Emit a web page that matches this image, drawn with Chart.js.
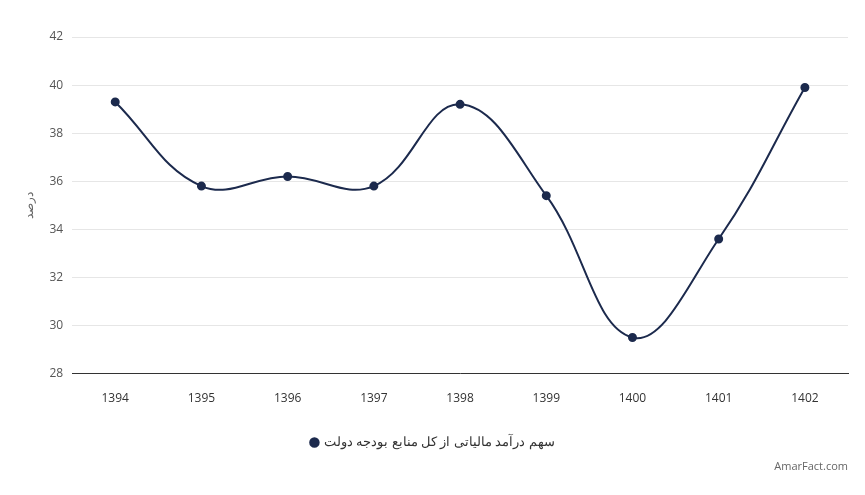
<!DOCTYPE html>
<html><head><meta charset="utf-8">
<script src="https://cdn.jsdelivr.net/npm/chart.js@4"></script>
<style>html,body{margin:0;padding:0;background:#fff}#w{position:relative;width:865px;height:495px}
#c{position:absolute;left:0;top:0}
#credit{position:absolute;right:17px;bottom:22px;font:11px "Open Sans";color:#666}</style>
</head><body><div id="w"><canvas id="c" width="865" height="495"></canvas><div id="credit">AmarFact.com</div></div>
<script>
const categories=['1394','1395','1396','1397','1398','1399','1400','1401','1402'];
const values=[39.3,35.8,36.2,35.8,39.2,35.4,29.5,33.6,39.9];
const seriesName='سهم درآمد مالیاتی از کل منابع بودجه دولت';
const yTitle='درصد';
Chart.defaults.font.family='"Open Sans"';
new Chart(document.getElementById('c'),{type:'line',
data:{labels:categories,datasets:[{label:seriesName,data:values,borderColor:'#1c2a4d',backgroundColor:'#1c2a4d',borderWidth:2,pointRadius:3.5,pointHoverRadius:3.5,tension:0.4,fill:false}]},
options:{responsive:false,animation:false,
layout:{padding:{left:18,right:17,top:37,bottom:36}},
plugins:{legend:{position:'bottom',labels:{usePointStyle:true,pointStyle:'circle',boxWidth:6,boxHeight:6,color:'#333',font:{size:13},padding:20}},tooltip:{enabled:false}},
scales:{x:{offset:true,grid:{display:false},border:{color:'#333',width:1},ticks:{color:'#333',font:{size:12},padding:10}},
y:{min:28,max:42,ticks:{stepSize:2,color:'#555',font:{size:12},padding:9},grid:{color:'#e6e6e6',drawTicks:false},border:{display:false},
title:{display:true,text:yTitle,color:'#666',font:{size:12}}}}}});
</script></body></html>
